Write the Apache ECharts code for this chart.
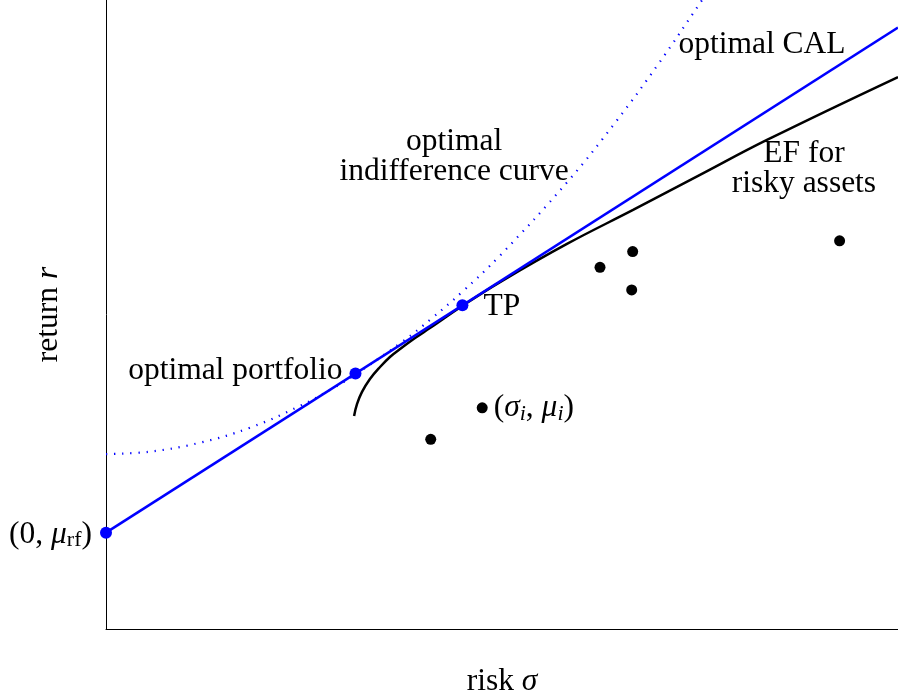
<!DOCTYPE html>
<html>
<head>
<meta charset="utf-8">
<title>Optimal portfolio on the capital allocation line</title>
<script src="https://cdn.jsdelivr.net/npm/echarts@6/dist/echarts.min.js"></script>
<style>
  html, body { margin: 0; padding: 0; background: #fff; }
  #chart { width: 898px; height: 700px; }
</style>
</head>
<body>
<div id="chart"></div>
<script>
// Capital allocation line: risk-free asset through the tangency portfolio
const calSigma = [0, 40];
const calMu = [4.9, 30.6];

// Efficient frontier of the risky assets
const frontierSigma = [12.53, 12.68, 12.93, 13.33, 13.84, 14.34, 14.85, 15.61, 16.36, 18.03, 19.90, 23.28, 26.62, 30.0, 33.38, 40.0];
const frontierMu = [10.84, 11.45, 12.06, 12.72, 13.33, 13.84, 14.24, 14.80, 15.31, 16.46, 17.65, 19.59, 21.32, 23.10, 24.88, 28.08];

// Highest attainable indifference curve
const indiffSigma = [0, 2.2, 4.8, 7.3, 9.8, 11.5, 12.6, 15.0, 16.4, 18.0, 19.9, 23.3, 25.8, 27.9, 30.0, 30.3];
const indiffMu = [8.90, 9.02, 9.49, 10.25, 11.35, 12.27, 12.95, 14.64, 15.76, 17.16, 19.0, 22.74, 25.87, 28.75, 31.84, 32.3];

// Individual risky assets
const assetSigma = [16.4, 19.0, 24.95, 26.6, 26.55, 37.05];
const assetMu = [9.65, 11.25, 18.4, 19.2, 17.25, 19.75];

// Risk-free asset, optimal portfolio, tangency portfolio
const keySigma = [0, 12.6, 18.0];
const keyMu = [4.9, 13.0, 16.47];

// Axis ranges
const sigmaRange = [0, 40];
const muRange = [0, 32];

const FONT = '"Liberation Serif", "DejaVu Serif", serif';
const FS = 31.5;
const SUB = 22;
const BLUE = '#0000ff';

const rich = {
  r: { fontFamily: FONT, fontSize: FS, color: '#000' },
  i: { fontFamily: FONT, fontSize: FS, fontStyle: 'italic', color: '#000' },
  s: { fontFamily: FONT, fontSize: SUB, color: '#000', padding: [12, 0, 0, 0] },
  si: { fontFamily: FONT, fontSize: SUB, fontStyle: 'italic', color: '#000', padding: [12, 0, 0, 0] }
};

const pairs = (xs, ys) => xs.map((x, k) => [x, ys[k]]);

const keyLabels = [
  { position: 'left', distance: 8, offset: [0, 2], formatter: '{r|(0, }{i|μ}{s|rf}{r|)}' },
  { position: 'left', distance: 7, offset: [0, -3], formatter: '{r|optimal portfolio}' },
  { position: 'right', distance: 15, offset: [0, 1], formatter: '{r|TP}' }
];

const keyData = pairs(keySigma, keyMu).map((v, k) => ({
  value: v,
  label: Object.assign({ show: true, color: '#000', rich: rich }, keyLabels[k])
}));

const assetData = pairs(assetSigma, assetMu).map((v, k) => k === 1 ? {
  value: v,
  label: { show: true, position: 'right', distance: 6, color: '#000', rich: rich,
           formatter: '{r|(}{i|σ}{si|i}{r|, }{i|μ}{si|i}{r|)}' }
} : v);

const textStyle = { fontFamily: FONT, fontSize: FS, color: '#000', lineHeight: 30 };

const chart = echarts.init(document.getElementById('chart'), null, { renderer: 'canvas' });
chart.setOption({
  animation: false,
  backgroundColor: '#fff',
  grid: { left: 106, right: 0, top: 0, bottom: 71, outerBoundsMode: 'none', containLabel: false },
  xAxis: {
    type: 'value', min: sigmaRange[0], max: sigmaRange[1],
    axisLine: { show: true, onZero: false, lineStyle: { color: '#000', width: 1 } },
    axisTick: { show: false }, axisLabel: { show: false }, splitLine: { show: false },
    name: '{r|risk }{i|σ}', nameLocation: 'middle', nameGap: 37,
    nameTextStyle: { rich: rich }
  },
  yAxis: {
    type: 'value', min: muRange[0], max: muRange[1],
    axisLine: { show: true, onZero: false, lineStyle: { color: '#000', width: 1 } },
    axisTick: { show: false }, axisLabel: { show: false }, splitLine: { show: false },
    name: '{r|return }{i|r}', nameLocation: 'middle', nameGap: 41, nameRotate: 90,
    nameTextStyle: { rich: rich }
  },
  series: [
    {
      name: 'indifference', type: 'line', data: pairs(indiffSigma, indiffMu),
      smooth: 0.4, showSymbol: false, z: 1, silent: true,
      lineStyle: { color: BLUE, width: 2.2, type: [1.3, 6.8] }
    },
    {
      name: 'frontier', type: 'line', data: pairs(frontierSigma, frontierMu),
      smooth: 0.4, showSymbol: false, z: 2, silent: true,
      lineStyle: { color: '#000', width: 2.5 }
    },
    {
      name: 'CAL', type: 'line', data: pairs(calSigma, calMu),
      showSymbol: false, z: 3, silent: true,
      lineStyle: { color: BLUE, width: 2.6 }
    },
    {
      name: 'assets', type: 'scatter', data: assetData, symbolSize: 11, z: 4, silent: true,
      itemStyle: { color: '#000', opacity: 1 }
    },
    {
      name: 'key portfolios', type: 'scatter', data: keyData, symbolSize: 12, z: 5, silent: true,
      itemStyle: { color: BLUE, opacity: 1 }
    },
    {
      name: 'notes', type: 'scatter', symbolSize: 1, z: 6, silent: true,
      itemStyle: { color: 'transparent', opacity: 1 },
      label: { show: true, position: 'inside', align: 'center', verticalAlign: 'middle' },
      data: [
        { value: [17.58, 24.01], label: Object.assign({ formatter: 'optimal\nindifference curve' }, textStyle) },
        { value: [33.13, 29.74], label: Object.assign({ formatter: 'optimal CAL' }, textStyle) },
        { value: [35.25, 23.40], label: Object.assign({ formatter: 'EF for\nrisky assets' }, textStyle) }
      ]
    }
  ]
});
</script>
</body>
</html>
